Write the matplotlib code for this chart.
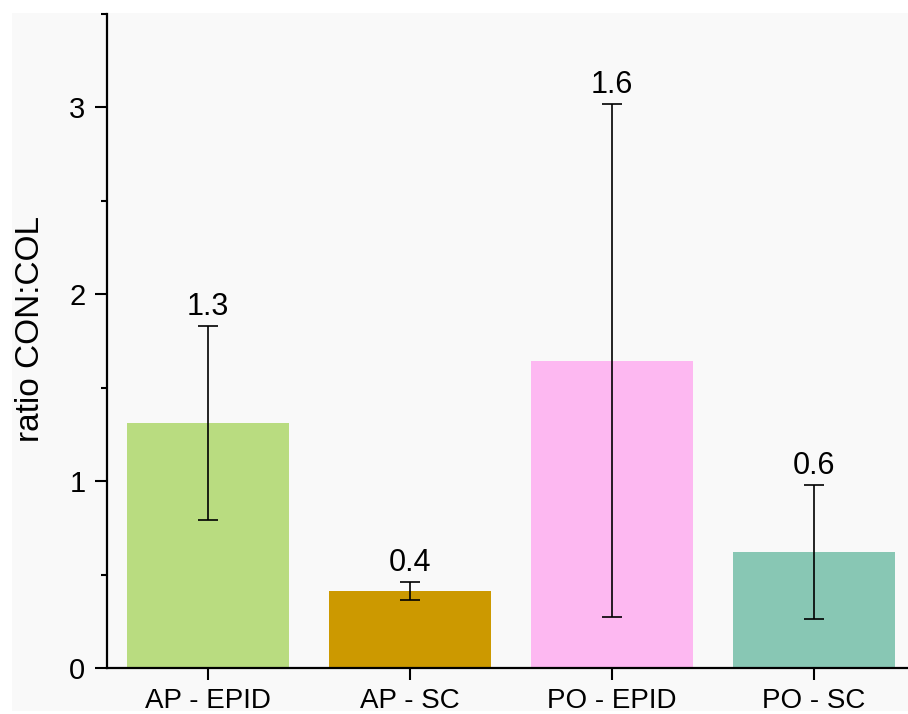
import matplotlib
matplotlib.use("Agg")
import matplotlib.pyplot as plt
from matplotlib.patches import Rectangle
from matplotlib.ticker import MultipleLocator

plt.rcParams['font.family'] = ['Liberation Sans', 'DejaVu Sans']

categories = ["AP - EPID", "AP - SC", "PO - EPID", "PO - SC"]
ratios = [1.31, 0.414, 1.645, 0.62]
errors = [0.52, 0.048, 1.372, 0.36]
value_labels = ["1.3", "0.4", "1.6", "0.6"]
bar_colors = ["#b9dc80", "#cc9900", "#fdb8f1", "#88c7b4"]

bg = "#f9f9f9"
fig = plt.figure(figsize=(9.08, 7.14), dpi=100, facecolor="white")
fig.patches.append(Rectangle((12 / 908, 3 / 714), 1.0, 698 / 714,
                             transform=fig.transFigure, facecolor=bg,
                             edgecolor="none", zorder=-10))

ax = fig.add_axes([107 / 908, 46 / 714, 808 / 908, 654 / 714])
ax.set_facecolor(bg)

x = list(range(len(categories)))
ax.bar(x, ratios, width=0.805, color=bar_colors, zorder=2)
ax.errorbar(x, ratios, yerr=errors, fmt="none", ecolor="black",
            elinewidth=1.2, capsize=7.5, capthick=1.2, zorder=3)

for xi, r, e, lab in zip(x, ratios, errors, value_labels):
    ax.annotate(lab, (xi, r + e), xytext=(0, 3), textcoords="offset points",
                ha="center", va="bottom", fontsize=22)

ax.set_xlim(-0.5, 3.5)
ax.set_ylim(0, 3.5)
ax.set_xticks(x)
ax.set_xticklabels(categories)
ax.yaxis.set_major_locator(MultipleLocator(1))
ax.yaxis.set_minor_locator(MultipleLocator(0.5))
ax.tick_params(axis="both", which="major", direction="out", length=8.5,
               width=1.5, labelsize=20, pad=6)
ax.tick_params(axis="y", which="major", pad=7, labelsize=21)
ax.tick_params(axis="y", which="minor", direction="out", length=4.5, width=1.5)
ax.set_ylabel("ratio CON:COL", fontsize=24)
ax.yaxis.set_label_coords(-0.075, 0.518)

for side in ("top", "right"):
    ax.spines[side].set_visible(False)
for side in ("left", "bottom"):
    ax.spines[side].set_linewidth(1.6)

fig.savefig("out.png", dpi=100, facecolor="white")
